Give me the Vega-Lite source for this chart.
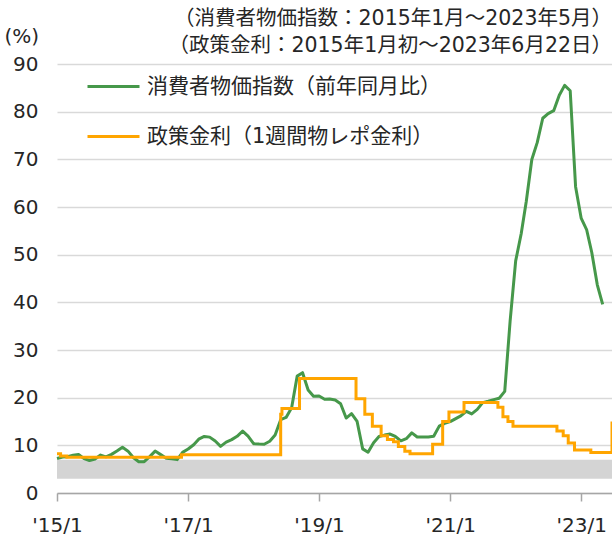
{
  "$schema": "https://vega.github.io/schema/vega-lite/v6.json",
  "width": 555,
  "height": 429,
  "autosize": {"type": "none"},
  "padding": {"left": 57, "top": 64, "right": 0, "bottom": 45},
  "config": {
    "font": "DejaVu Sans, Noto Sans CJK JP",
    "view": {"stroke": null},
    "axis": {"labelColor": "#262626", "labelFont": "DejaVu Sans", "labelFontSize": 20, "titleColor": "#262626"}
  },
  "title": {
    "text": ["（消費者物価指数：2015年1月～2023年5月）", "（政策金利：2015年1月初～2023年6月22日）"],
    "anchor": "end",
    "fontSize": 20.5,
    "fontWeight": "normal",
    "lineHeight": 27,
    "offset": -30,
    "dx": -6,
    "color": "#262626",
    "font": "DejaVu Sans, Noto Sans CJK JP"
  },
  "datasets": {
    "cpi": [
      {"date": "2015-01-01", "value": 7.24}, {"date": "2015-02-01", "value": 7.55}, {"date": "2015-03-01", "value": 7.61}, {"date": "2015-04-01", "value": 7.91},
      {"date": "2015-05-01", "value": 8.09}, {"date": "2015-06-01", "value": 7.20}, {"date": "2015-07-01", "value": 6.81}, {"date": "2015-08-01", "value": 7.14},
      {"date": "2015-09-01", "value": 7.95}, {"date": "2015-10-01", "value": 7.58}, {"date": "2015-11-01", "value": 8.10}, {"date": "2015-12-01", "value": 8.81},
      {"date": "2016-01-01", "value": 9.58}, {"date": "2016-02-01", "value": 8.78}, {"date": "2016-03-01", "value": 7.46}, {"date": "2016-04-01", "value": 6.57},
      {"date": "2016-05-01", "value": 6.58}, {"date": "2016-06-01", "value": 7.64}, {"date": "2016-07-01", "value": 8.79}, {"date": "2016-08-01", "value": 8.05},
      {"date": "2016-09-01", "value": 7.28}, {"date": "2016-10-01", "value": 7.16}, {"date": "2016-11-01", "value": 7.00}, {"date": "2016-12-01", "value": 8.53},
      {"date": "2017-01-01", "value": 9.22}, {"date": "2017-02-01", "value": 10.13}, {"date": "2017-03-01", "value": 11.29}, {"date": "2017-04-01", "value": 11.87},
      {"date": "2017-05-01", "value": 11.72}, {"date": "2017-06-01", "value": 10.90}, {"date": "2017-07-01", "value": 9.79}, {"date": "2017-08-01", "value": 10.68},
      {"date": "2017-09-01", "value": 11.20}, {"date": "2017-10-01", "value": 11.90}, {"date": "2017-11-01", "value": 12.98}, {"date": "2017-12-01", "value": 11.92},
      {"date": "2018-01-01", "value": 10.35}, {"date": "2018-02-01", "value": 10.26}, {"date": "2018-03-01", "value": 10.23}, {"date": "2018-04-01", "value": 10.85},
      {"date": "2018-05-01", "value": 12.15}, {"date": "2018-06-01", "value": 15.39}, {"date": "2018-07-01", "value": 15.85}, {"date": "2018-08-01", "value": 17.90},
      {"date": "2018-09-01", "value": 24.52}, {"date": "2018-10-01", "value": 25.24}, {"date": "2018-11-01", "value": 21.62}, {"date": "2018-12-01", "value": 20.30},
      {"date": "2019-01-01", "value": 20.35}, {"date": "2019-02-01", "value": 19.67}, {"date": "2019-03-01", "value": 19.71}, {"date": "2019-04-01", "value": 19.50},
      {"date": "2019-05-01", "value": 18.71}, {"date": "2019-06-01", "value": 15.72}, {"date": "2019-07-01", "value": 16.65}, {"date": "2019-08-01", "value": 15.01},
      {"date": "2019-09-01", "value": 9.26}, {"date": "2019-10-01", "value": 8.55}, {"date": "2019-11-01", "value": 10.56}, {"date": "2019-12-01", "value": 11.84},
      {"date": "2020-01-01", "value": 12.15}, {"date": "2020-02-01", "value": 12.37}, {"date": "2020-03-01", "value": 11.86}, {"date": "2020-04-01", "value": 10.94},
      {"date": "2020-05-01", "value": 11.39}, {"date": "2020-06-01", "value": 12.62}, {"date": "2020-07-01", "value": 11.76}, {"date": "2020-08-01", "value": 11.77},
      {"date": "2020-09-01", "value": 11.75}, {"date": "2020-10-01", "value": 11.89}, {"date": "2020-11-01", "value": 14.03}, {"date": "2020-12-01", "value": 14.60},
      {"date": "2021-01-01", "value": 14.97}, {"date": "2021-02-01", "value": 15.61}, {"date": "2021-03-01", "value": 16.19}, {"date": "2021-04-01", "value": 17.14},
      {"date": "2021-05-01", "value": 16.59}, {"date": "2021-06-01", "value": 17.53}, {"date": "2021-07-01", "value": 18.95}, {"date": "2021-08-01", "value": 19.25},
      {"date": "2021-09-01", "value": 19.58}, {"date": "2021-10-01", "value": 19.89}, {"date": "2021-11-01", "value": 21.31}, {"date": "2021-12-01", "value": 36.08},
      {"date": "2022-01-01", "value": 48.69}, {"date": "2022-02-01", "value": 54.44}, {"date": "2022-03-01", "value": 61.14}, {"date": "2022-04-01", "value": 69.97},
      {"date": "2022-05-01", "value": 73.50}, {"date": "2022-06-01", "value": 78.62}, {"date": "2022-07-01", "value": 79.60}, {"date": "2022-08-01", "value": 80.21},
      {"date": "2022-09-01", "value": 83.45}, {"date": "2022-10-01", "value": 85.51}, {"date": "2022-11-01", "value": 84.39}, {"date": "2022-12-01", "value": 64.27},
      {"date": "2023-01-01", "value": 57.68}, {"date": "2023-02-01", "value": 55.18}, {"date": "2023-03-01", "value": 50.51}, {"date": "2023-04-01", "value": 43.68},
      {"date": "2023-05-01", "value": 39.59}
    ],
    "rate": [
      {"date": "2015-01-01", "value": 8.25}, {"date": "2015-01-21", "value": 7.75}, {"date": "2015-02-25", "value": 7.50}, {"date": "2016-11-25", "value": 8.00},
      {"date": "2018-06-01", "value": 16.50}, {"date": "2018-06-08", "value": 17.75}, {"date": "2018-09-14", "value": 24.00}, {"date": "2019-07-26", "value": 19.75},
      {"date": "2019-09-13", "value": 16.50}, {"date": "2019-10-25", "value": 14.00}, {"date": "2019-12-13", "value": 12.00}, {"date": "2020-01-17", "value": 11.25},
      {"date": "2020-02-20", "value": 10.75}, {"date": "2020-03-18", "value": 9.75}, {"date": "2020-04-23", "value": 8.75}, {"date": "2020-05-22", "value": 8.25},
      {"date": "2020-09-25", "value": 10.25}, {"date": "2020-11-20", "value": 15.00}, {"date": "2020-12-25", "value": 17.00}, {"date": "2021-03-19", "value": 19.00},
      {"date": "2021-09-24", "value": 18.00}, {"date": "2021-10-22", "value": 16.00}, {"date": "2021-11-19", "value": 15.00}, {"date": "2021-12-17", "value": 14.00},
      {"date": "2022-08-19", "value": 13.00}, {"date": "2022-09-23", "value": 12.00}, {"date": "2022-10-21", "value": 10.50}, {"date": "2022-11-25", "value": 9.00},
      {"date": "2023-02-24", "value": 8.50}, {"date": "2023-06-22", "value": 15.00}
    ],
    "band": [{"value": 3, "value2": 7}]
  },
  "encoding": {
    "y": {
      "field": "value",
      "type": "quantitative",
      "scale": {"domain": [0, 90], "nice": false},
      "axis": {
        "values": [0, 10, 20, 30, 40, 50, 60, 70, 80, 90],
        "grid": true,
        "gridColor": "#d9d9d9",
        "gridWidth": 1.5,
        "domain": false,
        "ticks": false,
        "labelPadding": 19,
        "title": "(%)",
        "titleAngle": 0,
        "titleAlign": "left",
        "titleBaseline": "middle",
        "titleX": -53,
        "titleY": -28,
        "titleFont": "DejaVu Sans",
        "titleFontSize": 20,
        "titleFontWeight": "normal"
      }
    }
  },
  "layer": [
    {
      "data": {"name": "band"},
      "mark": {"type": "rect", "color": "#d4d4d4"},
      "encoding": {"y2": {"field": "value2"}}
    },
    {
      "data": {"name": "cpi"},
      "transform": [{"calculate": "'消費者物価指数（前年同月比）'", "as": "series"}],
      "mark": {"type": "line", "strokeWidth": 3, "strokeJoin": "round"},
      "encoding": {
        "x": {
          "field": "date",
          "type": "temporal",
          "scale": {"type": "utc", "domain": [{"year": 2015, "month": 1, "date": 1, "utc": true}, {"year": 2023, "month": 6, "date": 22, "utc": true}]},
          "axis": {
            "values": [{"year": 2015, "month": 1, "date": 1, "utc": true}, {"year": 2017, "month": 1, "date": 1, "utc": true}, {"year": 2019, "month": 1, "date": 1, "utc": true}, {"year": 2021, "month": 1, "date": 1, "utc": true}, {"year": 2023, "month": 1, "date": 1, "utc": true}],
            "format": "'%y/%-m",
            "grid": false,
            "labelFlush": false,
            "labelOverlap": false,
            "domainColor": "#a6a6a6",
            "domainWidth": 1.5,
            "tickColor": "#a6a6a6",
            "tickWidth": 1.5,
            "tickSize": 8,
            "labelPadding": 14,
            "title": null
          }
        },
        "color": {
          "field": "series",
          "type": "nominal",
          "scale": {"domain": ["消費者物価指数（前年同月比）", "政策金利（1週間物レポ金利）"], "range": ["#46984a", "#ffa500"]},
          "legend": {
            "orient": "none",
            "legendX": 29,
            "legendY": -5,
            "title": null,
            "symbolType": "stroke",
            "symbolSize": 2704,
            "symbolStrokeWidth": 3,
            "labelFontSize": 21,
            "labelFont": "DejaVu Sans, Noto Sans CJK JP",
            "labelColor": "#262626",
            "labelLimit": 500,
            "labelOffset": 6,
            "rowPadding": 12,
            "padding": 0
          }
        }
      }
    },
    {
      "data": {"name": "rate"},
      "transform": [{"calculate": "'政策金利（1週間物レポ金利）'", "as": "series"}],
      "mark": {"type": "line", "strokeWidth": 3, "interpolate": "step-after"},
      "encoding": {
        "x": {"field": "date", "type": "temporal"},
        "color": {"field": "series", "type": "nominal"}
      }
    }
  ]
}
